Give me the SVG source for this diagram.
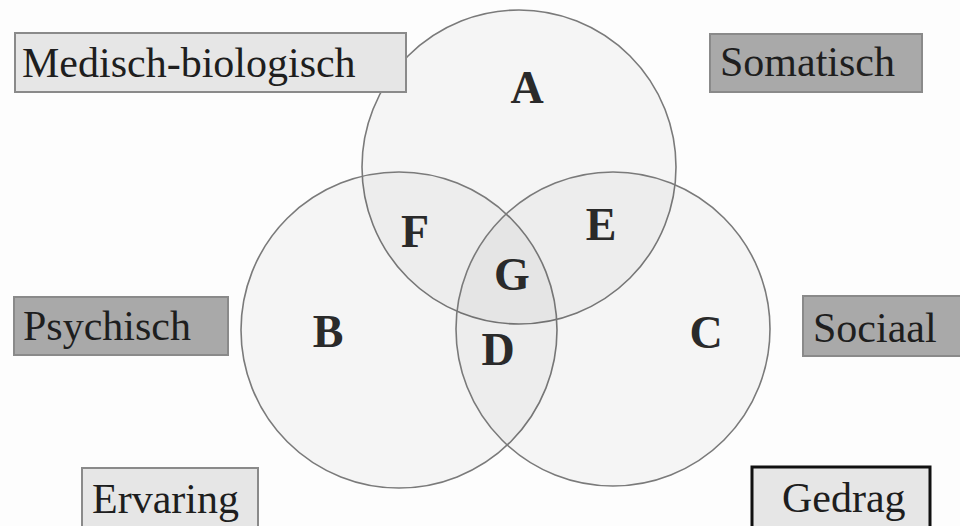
<svg xmlns="http://www.w3.org/2000/svg" width="960" height="526" viewBox="0 0 960 526">
<style>
.circ{fill:#000;fill-opacity:0.032;stroke:#7a7a7a;stroke-width:1.6}
.lbl{font-family:"Liberation Serif","Times New Roman",serif;font-size:42px;fill:#1e1e1e}
.let{font-family:"Liberation Serif","Times New Roman",serif;font-size:46px;font-weight:bold;fill:#2a2a2a;text-anchor:middle}
.light{fill:#e6e6e6;stroke:#8a8a8a;stroke-width:2}
.dark{fill:#a9a9a9;stroke:#8a8a8a;stroke-width:2}
</style>
<rect width="960" height="526" fill="#fdfdfd"/>
<g id="circles">
<circle id="circleA" class="circ" cx="519" cy="167" r="157"/>
<circle id="circleB" class="circ" cx="399" cy="330" r="158"/>
<circle id="circleC" class="circ" cx="613" cy="329" r="157"/>
</g>
<g id="regions">
<text class="let" x="527" y="103">A</text>
<text class="let" x="328" y="347">B</text>
<text class="let" x="706" y="348">C</text>
<text class="let" x="498" y="365">D</text>
<text class="let" x="601" y="240">E</text>
<text class="let" x="415" y="247">F</text>
<text class="let" x="512" y="290">G</text>
</g>
<g id="medisch">
<rect class="light" x="15" y="33" width="391" height="59"/>
<text class="lbl" x="22" y="77">Medisch-biologisch</text>
</g>
<g id="somatisch">
<rect class="dark" x="710" y="34" width="212" height="58"/>
<text class="lbl" x="720" y="76">Somatisch</text>
</g>
<g id="psychisch">
<rect class="dark" x="14" y="297" width="214" height="58"/>
<text class="lbl" x="23" y="340">Psychisch</text>
</g>
<g id="sociaal">
<rect class="dark" x="803" y="296" width="170" height="60"/>
<text class="lbl" x="813" y="342">Sociaal</text>
</g>
<g id="ervaring">
<rect class="light" x="82" y="468" width="176" height="70"/>
<text class="lbl" x="92" y="513">Ervaring</text>
</g>
<g id="gedrag">
<rect x="752" y="467" width="178" height="70" fill="#e6e6e6" stroke="#111" stroke-width="3"/>
<text class="lbl" x="782" y="512">Gedrag</text>
</g>
</svg>
